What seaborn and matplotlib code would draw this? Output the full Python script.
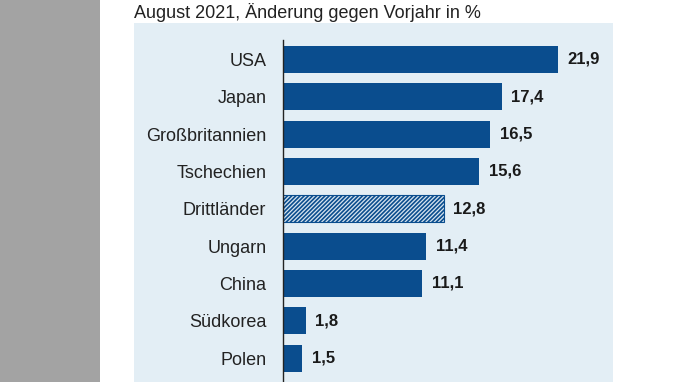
import matplotlib
matplotlib.use("Agg")
import matplotlib.pyplot as plt
from matplotlib.patches import Rectangle
import seaborn as sns
import pandas as pd

categories = ["USA", "Japan", "Großbritannien", "Tschechien", "Drittländer",
              "Ungarn", "China", "Südkorea", "Polen"]
values = [21.9, 17.4, 16.5, 15.6, 12.8, 11.4, 11.1, 1.8, 1.5]
value_labels = [f"{v:.1f}".replace(".", ",") for v in values]
title = "August 2021, Änderung gegen Vorjahr in %"

sns.set_style("white")
plt.rcParams['font.family'] = ['Liberation Sans', 'DejaVu Sans']
plt.rcParams['hatch.linewidth'] = 1.2

W, H = 675, 382
fig = plt.figure(figsize=(W / 100, H / 100), dpi=100)
fig.patch.set_facecolor("white")

def fx(px):
    return px / W

def fy(py):
    return 1 - py / H

# grey strip on the left
fig.add_artist(Rectangle((0, 0), fx(100), 1, transform=fig.transFigure,
                         facecolor="#a3a3a3", edgecolor="none", zorder=0))
# light blue panel
fig.add_artist(Rectangle((fx(134), 0), fx(613 - 134), fy(23), transform=fig.transFigure,
                         facecolor="#e3eef5", edgecolor="none", zorder=0))

fig.text(fx(134), fy(12.5), title, fontsize=13, color="#222222", va="center", ha="left")

ax = fig.add_axes([fx(283), 0, fx(314), fy(40)])
ax.set_facecolor("none")
df = pd.DataFrame({"Land": categories, "Wert": values})
blue = "#0a4d8e"
sns.barplot(data=df, x="Wert", y="Land", orient="h", color=blue, width=0.72,
            saturation=1, linewidth=0, ax=ax)

hp = ax.patches[4]
hp.set_facecolor("#d6e4ef")
hp.set_edgecolor(blue)
hp.set_hatch("////////")
hp.set_linewidth(0.8)

ax.bar_label(ax.containers[0], labels=value_labels, padding=7,
             fontsize=12, fontweight="bold", color="#1a1a1a")

ax.set_xlim(0, 25)
ax.set_ylim(8.64, -0.52)
ax.set_xlabel("")
ax.set_ylabel("")
ax.set_xticks([])
ax.tick_params(axis="y", length=0, pad=12, labelsize=13, labelcolor="#222222")
for s in ["top", "right", "bottom"]:
    ax.spines[s].set_visible(False)
ax.spines["left"].set_color("#222222")
ax.spines["left"].set_linewidth(1.0)

fig.savefig("out.png", dpi=100)
